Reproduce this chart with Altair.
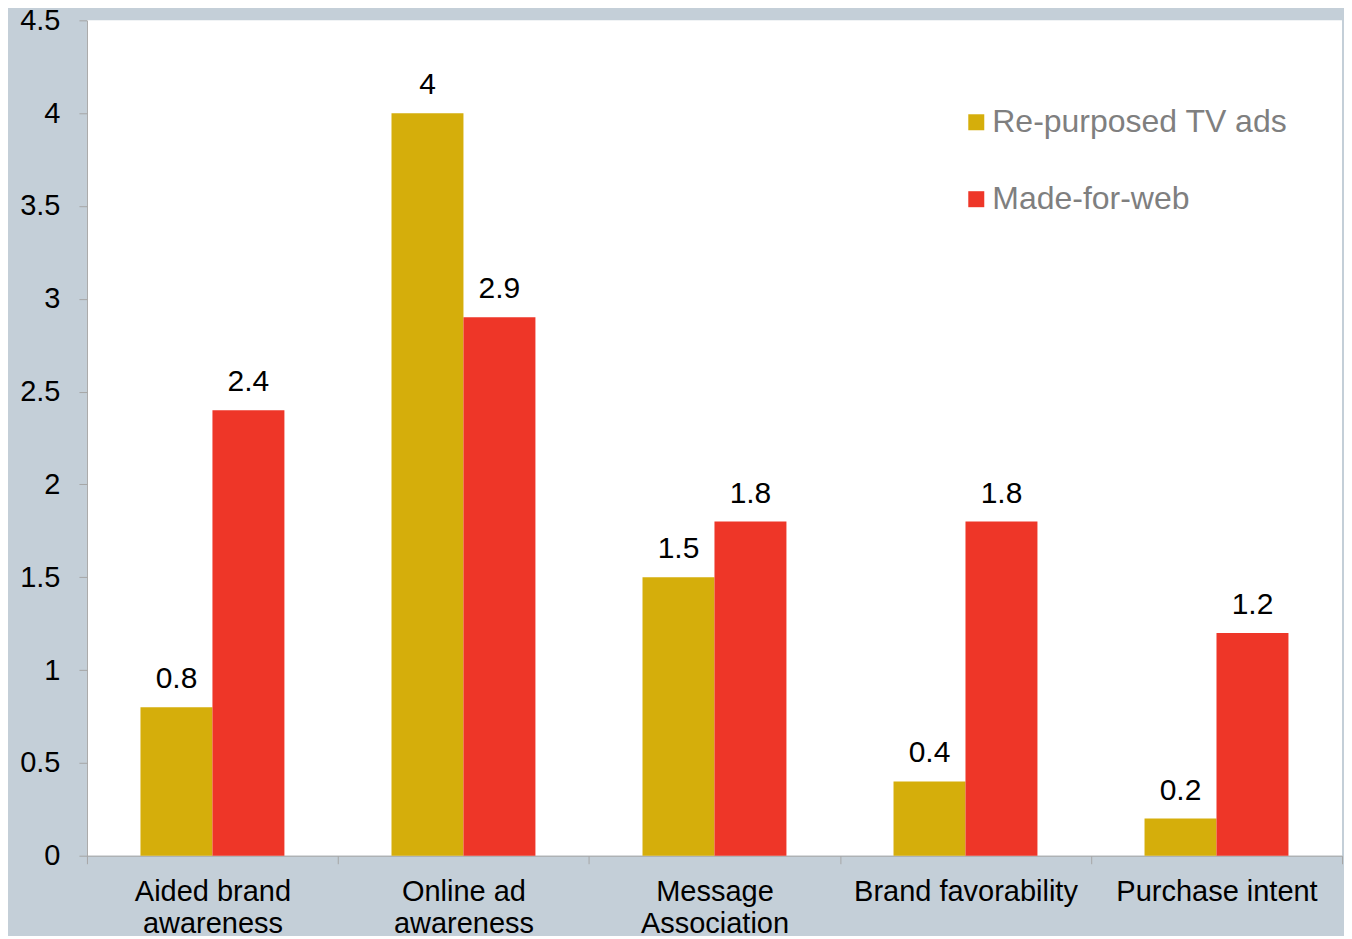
import altair as alt
import pandas as pd
import json

categories = ["Aided brand awareness", "Online ad awareness", "Message Association",
              "Brand favorability", "Purchase intent"]
category_lines = [["Aided brand", "awareness"], ["Online ad", "awareness"],
                  ["Message", "Association"], ["Brand favorability"], ["Purchase intent"]]
series_names = ["Re-purposed TV ads", "Made-for-web"]
tv_values = [0.8, 4.0, 1.5, 0.4, 0.2]
web_values = [2.4, 2.9, 1.8, 1.8, 1.2]
colors = ["#d5ae0b", "#ee3628"]

rows = []
for c, a, b in zip(categories, tv_values, web_values):
    rows.append({"cat": c, "series": series_names[0], "value": a})
    rows.append({"cat": c, "series": series_names[1], "value": b})
df = pd.DataFrame(rows)

label_map = json.dumps(dict(zip(categories, category_lines)))
label_expr = f"isValid(datum.value) && isValid({label_map}[datum.value]) ? {label_map}[datum.value] : ''"

FONT = "Liberation Sans"

x = alt.X("cat:N", sort=categories, title=None,
          scale=alt.Scale(paddingInner=0, paddingOuter=0),
          axis=alt.Axis(labelAngle=0, tickBand="extent", tickSize=8, tickColor="#a6a6a6",
                        domainColor="#a6a6a6", labelFontSize=29, labelColor="#000000",
                        labelFont=FONT, labelPadding=14, labelLineHeight=32,
                        labelExpr=label_expr, labelLimit=400))
xo = alt.XOffset("series:N", sort=series_names,
                 scale=alt.Scale(paddingInner=0, paddingOuter=0.744))
y = alt.Y("value:Q", title=None,
          scale=alt.Scale(domain=[0, 4.5], nice=False),
          axis=alt.Axis(values=[0, 0.5, 1, 1.5, 2, 2.5, 3, 3.5, 4, 4.5], grid=False,
                        tickSize=8, tickColor="#a6a6a6", domainColor="#a6a6a6",
                        labelFontSize=29, labelColor="#000000", labelFont=FONT,
                        labelPadding=19, labelExpr="datum.value + ''"))
color = alt.Color("series:N", sort=series_names,
                  scale=alt.Scale(domain=series_names, range=colors),
                  legend=alt.Legend(title=None, orient="none", legendX=874, legendY=86,
                                    symbolType="square", symbolSize=256,
                                    symbolStrokeWidth=0, labelFontSize=32,
                                    labelColor="#7f7f7f", labelFont=FONT,
                                    rowPadding=45, labelOffset=0, labelLimit=500))

bars = alt.Chart(df).mark_bar(opacity=1).encode(x=x, xOffset=xo, y=y, color=color)
labels = alt.Chart(df).mark_text(fontSize=30, font=FONT, color="#000000",
                                 baseline="alphabetic", dy=-19).encode(
    x=alt.X("cat:N", sort=categories), xOffset=xo, y="value:Q",
    text=alt.Text("value:Q"))

chart = (bars + labels).properties(
    width=1256, height=836,
    autosize=alt.AutoSizeParams(type="none"),
    padding={"left": 79, "top": 12, "right": 2, "bottom": 80},
    background="#c4cfd8",
).configure_view(fill="#ffffff", stroke=None)

chart.save("out.html", embed_options={"renderer": "svg", "actions": False})
